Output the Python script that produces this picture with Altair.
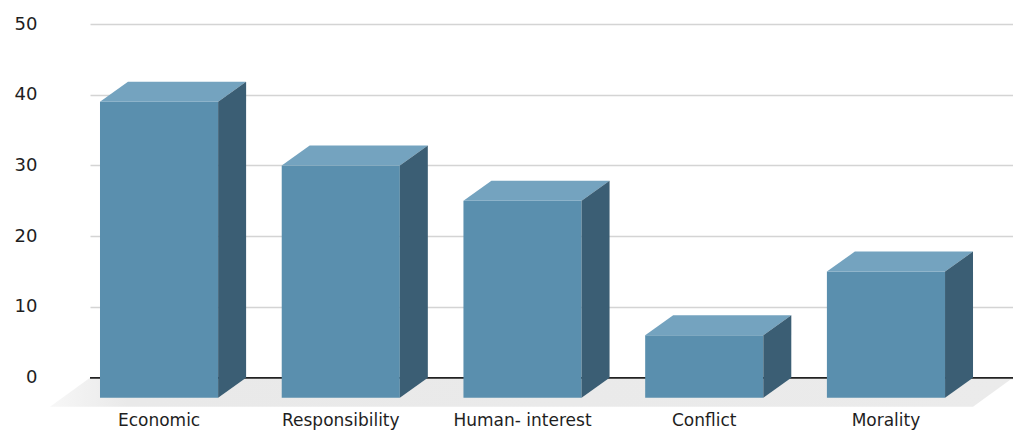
import altair as alt
import pandas as pd

categories = ["Economic", "Responsibility", "Human- interest", "Conflict", "Morality"]
values = [39, 30, 25, 6, 15]
y_ticks = [0, 10, 20, 30, 40, 50]

# Box geometry in data units (x: category slots, y: value units)
HALF_W = 0.325      # half width of a box's front face
DEPTH_X = 0.154     # receding depth, horizontal part
DEPTH_Y = 2.83      # receding depth, vertical part
FLOOR_DX = 0.22
FLOOR_DY = 4.1
LABEL_Y = -6.2
X_DOMAIN = [-0.534, 4.545]
Y_DOMAIN = [-5, 50]

FRONT = "#5a8fae"
TOP = "#74a3bf"
SIDE = "#3b5e74"
FONT = "DejaVu Sans"

fronts, tops, sides = [], [], []
for i, (c, v) in enumerate(zip(categories, values)):
    xl = i - DEPTH_X - HALF_W
    xr = i - DEPTH_X + HALF_W
    fronts.append({"cat": c, "xl": xl, "xr": xr, "y0": -DEPTH_Y, "y1": v,
                   "xc": i - DEPTH_X, "ylab": LABEL_Y})
    tops += [{"cat": c, "y": v, "xa": xl, "xb": xr},
             {"cat": c, "y": v + DEPTH_Y, "xa": xl + DEPTH_X, "xb": xr + DEPTH_X}]
    sides += [{"cat": c, "x": xr, "ya": -DEPTH_Y, "yb": v},
              {"cat": c, "x": xr + DEPTH_X, "ya": 0, "yb": v + DEPTH_Y}]

floor = [{"y": 0, "xa": X_DOMAIN[0], "xb": X_DOMAIN[1]},
         {"y": -FLOOR_DY, "xa": X_DOMAIN[0] - FLOOR_DX, "xb": X_DOMAIN[1] - FLOOR_DX}]

df_front = pd.DataFrame(fronts)
df_top = pd.DataFrame(tops)
df_side = pd.DataFrame(sides)
df_floor = pd.DataFrame(floor)

xs = alt.Scale(domain=X_DOMAIN, nice=False, zero=False)
ys = alt.Scale(domain=Y_DOMAIN, nice=False, zero=False)
y_axis = alt.Axis(values=y_ticks, grid=True, gridColor="#d4d4d4", gridWidth=1.5,
                  domain=False, ticks=False, labelFont=FONT, labelFontSize=18,
                  labelColor="#1e1e1e", labelPadding=53, title=None)

floor_layer = alt.Chart(df_floor).mark_area(
    orient="horizontal",
    color=alt.Gradient(gradient="linear", x1=0, x2=1, y1=0, y2=0,
                       stops=[alt.GradientStop(offset=0, color="#f7f7f7"),
                              alt.GradientStop(offset=0.08, color="#e9e9e9"),
                              alt.GradientStop(offset=1, color="#ebebeb")]),
).encode(
    y=alt.Y("y:Q", scale=ys, axis=y_axis),
    x=alt.X("xa:Q", scale=xs, axis=None),
    x2="xb:Q",
)

zero_line = alt.Chart(df_floor).mark_rule(color="#222222", strokeWidth=1.5).encode(
    y=alt.datum(0, scale=ys, axis=y_axis),
)

front_layer = alt.Chart(df_front).mark_rect(color=FRONT).encode(
    x=alt.X("xl:Q", scale=xs, axis=None),
    x2="xr:Q",
    y=alt.Y("y0:Q", scale=ys, axis=y_axis),
    y2="y1:Q",
)

top_layer = alt.Chart(df_top).mark_area(orient="horizontal", color=TOP).encode(
    y=alt.Y("y:Q", scale=ys, axis=y_axis),
    x=alt.X("xa:Q", scale=xs, axis=None),
    x2="xb:Q",
    detail="cat:N",
)

side_layer = alt.Chart(df_side).mark_area(orient="vertical", color=SIDE).encode(
    x=alt.X("x:Q", scale=xs, axis=None),
    y=alt.Y("ya:Q", scale=ys, axis=y_axis),
    y2="yb:Q",
    detail="cat:N",
)

labels = alt.Chart(df_front).mark_text(
    font=FONT, fontSize=17, color="#1e1e1e", baseline="middle", align="center"
).encode(
    x=alt.X("xc:Q", scale=xs, axis=None),
    y=alt.Y("ylab:Q", scale=ys, axis=y_axis),
    text="cat:N",
)

chart = alt.layer(
    floor_layer, zero_line, front_layer, top_layer, side_layer, labels
).properties(
    width=923,
    height=389,
    padding={"left": 90, "top": 24, "right": 0, "bottom": 20},
    autosize=alt.AutoSizeParams(type="none"),
    background="white",
).configure_view(stroke=None)

chart.save("out.html", embed_options={"renderer": "svg", "actions": False})
